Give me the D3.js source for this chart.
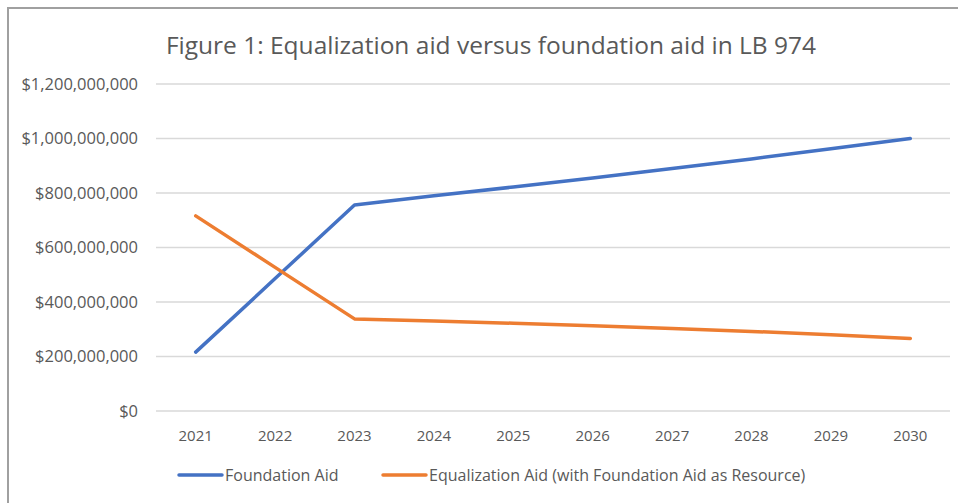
<!DOCTYPE html>
<html>
<head>
<meta charset="utf-8">
<script src="https://cdn.jsdelivr.net/npm/d3@7"></script>
<style>
  body { margin: 0; background: #fff; }
  svg { display: block; font-family: "Open Sans", sans-serif; }
</style>
</head>
<body>
<svg id="chart" width="958" height="503"></svg>
<script>
const years = ['2021', '2022', '2023', '2024', '2025', '2026', '2027', '2028', '2029', '2030'];
const foundationAid = [216e6, 486e6, 756e6, 790e6, 822e6, 855e6, 890e6, 925e6, 962e6, 1000e6];
const equalizationAid = [716e6, 527e6, 338e6, 330e6, 322e6, 313e6, 303e6, 292e6, 280e6, 266e6];
const yTicks = [0, 200e6, 400e6, 600e6, 800e6, 1000e6, 1200e6];
const seriesNames = ['Foundation Aid', 'Equalization Aid (with Foundation Aid as Resource)'];
const colors = ['#4472c4', '#ed7d31'];

const svg = d3.select('#chart');
const margin = { left: 156, right: 950, top: 84, bottom: 411 };

// frame around the chart
svg.append('path')
  .attr('d', 'M8,503V8H958')
  .attr('fill', 'none')
  .attr('stroke', '#a0a0a0')
  .attr('stroke-width', 2);

svg.append('text')
  .attr('x', 491)
  .attr('y', 54)
  .attr('text-anchor', 'middle')
  .attr('font-size', 24.5)
  .attr('fill', '#595959')
  .text('Figure 1: Equalization aid versus foundation aid in LB 974');

const x = d3.scaleBand().domain(years).range([margin.left, margin.right]);
const y = d3.scaleLinear().domain([0, 1200e6]).range([margin.bottom, margin.top]);

// gridlines
svg.append('g')
  .selectAll('line')
  .data(yTicks)
  .join('line')
  .attr('x1', margin.left)
  .attr('x2', margin.right)
  .attr('y1', d => y(d))
  .attr('y2', d => y(d))
  .attr('stroke', '#d9d9d9')
  .attr('stroke-width', 1.5);

const fmt = d3.format('$,.0f');
const yAxis = svg.append('g')
  .attr('transform', 'translate(' + (margin.left - 18) + ',0)')
  .call(d3.axisLeft(y).tickValues(yTicks).tickFormat(fmt).tickSize(0).tickPadding(0));
yAxis.select('.domain').remove();
yAxis.selectAll('text')
  .attr('font-size', 16.5)
  .attr('fill', '#595959')
  .style('font-family', '"Open Sans", sans-serif');

const xAxis = svg.append('g')
  .attr('transform', 'translate(0,' + margin.bottom + ')')
  .call(d3.axisBottom(x).tickSize(0).tickPadding(19));
xAxis.select('.domain').remove();
xAxis.selectAll('text')
  .attr('font-size', 15)
  .attr('fill', '#595959')
  .style('font-family', '"Open Sans", sans-serif');

const line = d3.line()
  .x((d, i) => x(years[i]) + x.bandwidth() / 2)
  .y(d => y(d));

[foundationAid, equalizationAid].forEach((series, i) => {
  svg.append('path')
    .datum(series)
    .attr('d', line)
    .attr('fill', 'none')
    .attr('stroke', colors[i])
    .attr('stroke-width', 3.5)
    .attr('stroke-linecap', 'round')
    .attr('stroke-linejoin', 'round');
});

// legend
const legendX = [179, 383];
const legend = svg.append('g')
  .selectAll('g')
  .data(seriesNames)
  .join('g')
  .attr('transform', (d, i) => 'translate(' + legendX[i] + ',475)');
legend.append('line')
  .attr('x1', 0)
  .attr('x2', 43)
  .attr('stroke', (d, i) => colors[i])
  .attr('stroke-width', 3.5)
  .attr('stroke-linecap', 'round');
legend.append('text')
  .attr('x', 46)
  .attr('dy', '0.35em')
  .attr('font-size', 16)
  .attr('fill', '#595959')
  .text(d => d);
</script>
</body>
</html>
